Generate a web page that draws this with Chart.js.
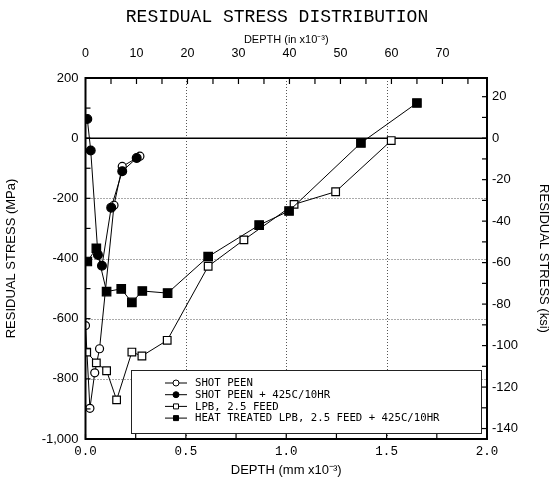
<!DOCTYPE html>
<html>
<head>
<meta charset="utf-8">
<script src="https://cdn.jsdelivr.net/npm/chart.js@4.4.1/dist/chart.umd.min.js"></script>
<style>
html, body { margin: 0; padding: 0; background: #fff; }
</style>
</head>
<body>
<canvas id="stressChart" width="554" height="486"></canvas>
<script>
// depth (mm x10^-3) and residual stress (MPa)
var shotPeenDepth = [0, 0.022, 0.046, 0.070, 0.142, 0.183, 0.271]
var shotPeenStress = [-623, -898, -780, -700, -223, -94, -60]

var shotPeenHtDepth = [0.009, 0.026, 0.062, 0.082, 0.128, 0.183, 0.255]
var shotPeenHtStress = [64, -41, -388, -424, -231, -110, -66]

var lpbDepth = [0.006, 0.054, 0.105, 0.155, 0.231, 0.281, 0.407, 0.611, 0.789, 1.039, 1.246, 1.523]
var lpbStress = [-711, -747, -773, -870, -711, -724, -672, -426, -338, -220, -178, -8]

var lpbHtDepth = [0.009, 0.054, 0.105, 0.178, 0.231, 0.283, 0.409, 0.611, 0.865, 1.014, 1.372, 1.651]
var lpbHtStress = [-410, -366, -510, -501, -546, -508, -515, -394, -289, -242, -16, 117]

var seriesNames = [
	"SHOT PEEN",
	"SHOT PEEN + 425C/10HR",
	"LPB, 2.5 FEED",
	"HEAT TREATED LPB, 2.5 FEED + 425C/10HR"
]

// tick labels
var mmTicks = [0, 0.5, 1.0, 1.5, 2.0]
var inchTicks = [0, 10, 20, 30, 40, 50, 60, 70]
var mpaTicks = [-1000, -800, -600, -400, -200, 0, 200]
var ksiTicks = [-140, -120, -100, -80, -60, -40, -20, 0, 20]

var MM_PER_MIL = 0.0254
var MPA_PER_KSI = 6.894757

function pairs(xs, ys) {
	var out = []
	for (var i = 0; i < xs.length; i++) out.push({x: xs[i], y: ys[i]})
	return out
}

function series(name, xs, ys, shape, filled, radius, order) {
	return {
		label: name,
		data: pairs(xs, ys),
		borderColor: '#000',
		borderWidth: 1,
		backgroundColor: filled ? '#000' : '#fff',
		pointStyle: shape,
		pointRadius: radius,
		pointBorderWidth: 1.2,
		pointBorderColor: '#000',
		pointBackgroundColor: filled ? '#000' : '#fff',
		tension: 0,
		order: order
	}
}

var datasets = [
	series(seriesNames[0], shotPeenDepth, shotPeenStress, 'circle', false, 4, 4),
	series(seriesNames[1], shotPeenHtDepth, shotPeenHtStress, 'circle', true, 4.4, 2),
	series(seriesNames[2], lpbDepth, lpbStress, 'rect', false, 5.4, 3),
	series(seriesNames[3], lpbHtDepth, lpbHtStress, 'rect', true, 6, 1)
]

function setTicks(list) {
	return function (scale) {
		scale.ticks = list.map(function (v) { return {value: v} })
	}
}

function line(ctx, x1, y1, x2, y2) {
	ctx.beginPath()
	ctx.moveTo(x1, y1)
	ctx.lineTo(x2, y2)
	ctx.stroke()
}

var framePlugin = {
	id: 'frame',
	beforeDatasetsDraw: function (chart) {
		var ctx = chart.ctx, a = chart.chartArea
		var sx = chart.scales.x, sy = chart.scales.y
		ctx.save()
		ctx.strokeStyle = '#555'
		ctx.lineWidth = 1
		ctx.setLineDash([1, 2])
		mmTicks.forEach(function (v) {
			if (v <= 0 || v >= 2) return
			var px = Math.round(sx.getPixelForValue(v)) + 0.5
			line(ctx, px, a.top, px, a.bottom)
		})
		mpaTicks.forEach(function (v) {
			if (v <= -1000 || v >= 200 || v === 0) return
			var py = Math.round(sy.getPixelForValue(v)) + 0.5
			line(ctx, a.left, py, a.right, py)
		})
		ctx.setLineDash([])
		ctx.strokeStyle = '#000'
		ctx.lineWidth = 1.5
		var zy = sy.getPixelForValue(0)
		line(ctx, a.left, zy, a.right, zy)
		ctx.restore()
	},
	afterDatasetsDraw: function (chart) {
		var ctx = chart.ctx, a = chart.chartArea
		var sx = chart.scales.x, sx2 = chart.scales.x2, sy = chart.scales.y, sy2 = chart.scales.y2
		ctx.save()
		ctx.strokeStyle = '#000'
		ctx.lineWidth = 1.2
		var v, p
		// inward ticks on all four sides
		for (v = 0; v <= 2.0001; v += 0.25) {
			p = sx.getPixelForValue(v)
			line(ctx, p, a.bottom, p, a.bottom - 5)
		}
		for (v = 5; v <= 78; v += 5) {
			p = sx2.getPixelForValue(v)
			line(ctx, p, a.top, p, a.top + 6)
		}
		for (v = -900; v < 200; v += 100) {
			p = sy.getPixelForValue(v)
			line(ctx, a.left, p, a.left + 5, p)
		}
		for (v = -140; v <= 20; v += 10) {
			p = sy2.getPixelForValue(v)
			line(ctx, a.right, p, a.right - 5, p)
		}
		ctx.lineWidth = 2
		ctx.strokeRect(a.left, a.top, a.right - a.left, a.bottom - a.top)
		ctx.restore()
	},
	afterDraw: function (chart) {
		var ctx = chart.ctx
		var bx = 131.5, by = 370.5, bw = 350, bh = 63
		ctx.save()
		ctx.fillStyle = '#fff'
		ctx.fillRect(bx, by, bw, bh)
		ctx.strokeStyle = '#222'
		ctx.lineWidth = 1
		ctx.strokeRect(bx, by, bw, bh)
		ctx.font = '10.7px "DejaVu Sans Mono"'
		ctx.textBaseline = 'middle'
		ctx.fillStyle = '#000'
		for (var i = 0; i < datasets.length; i++) {
			var d = datasets[i]
			var ry = 383 + i * 11.7
			ctx.strokeStyle = '#000'
			ctx.lineWidth = 1
			line(ctx, 165, ry, 187, ry)
			ctx.fillStyle = d.pointBackgroundColor
			ctx.lineWidth = 1
			ctx.beginPath()
			if (d.pointStyle === 'circle') ctx.arc(176, ry, 3, 0, Math.PI * 2)
			else ctx.rect(173.5, ry - 2.5, 5, 5)
			ctx.fill()
			ctx.stroke()
			ctx.fillStyle = '#000'
			ctx.fillText(d.label, 195, ry + 0.5)
		}
		ctx.restore()
	}
}

var tickFont = {family: '"Liberation Sans", Arial, sans-serif', size: 13}
var titleFont = {family: '"Liberation Sans", Arial, sans-serif', size: 13}

var ctx = document.getElementById("stressChart")
var chart = new Chart(ctx, {
	type: 'line',
	data: {datasets: datasets},
	plugins: [framePlugin],
	options: {
		responsive: false,
		animation: false,
		devicePixelRatio: 1,
		layout: {padding: 0},
		plugins: {
			legend: {display: false},
			tooltip: {enabled: false},
			title: {
				display: true,
				text: 'RESIDUAL STRESS DISTRIBUTION',
				color: '#000',
				font: {family: '"Liberation Mono", monospace', size: 18, weight: 'normal'},
				padding: {top: 6, bottom: 0}
			}
		},
		scales: {
			x: {
				type: 'linear',
				position: 'bottom',
				min: 0,
				max: 2,
				afterBuildTicks: setTicks(mmTicks),
				afterFit: function (s) { s.height = 47 },
				grid: {display: false, drawTicks: false},
				border: {display: false},
				ticks: {
					padding: 5,
					color: '#000',
					font: {family: '"Liberation Mono", monospace', size: 12.5},
					callback: function (v) { return Number(v).toFixed(1) }
				},
				title: {
					display: true,
					text: 'DEPTH (mm x10\u207B\u00B3)',
					color: '#000',
					font: titleFont,
					padding: {top: 0, bottom: 8}
				}
			},
			x2: {
				type: 'linear',
				position: 'top',
				min: 0,
				max: 2 / MM_PER_MIL,
				afterBuildTicks: setTicks(inchTicks),
				afterFit: function (s) { s.height = 50.4 },
				grid: {display: false, drawTicks: false},
				border: {display: false},
				ticks: {padding: 17, color: '#000', font: {family: tickFont.family, size: 12.5}},
				title: {
					display: true,
					text: 'DEPTH (in x10\u207B\u00B3)',
					color: '#000',
					font: {family: tickFont.family, size: 11},
					padding: {top: 6, bottom: 0}
				}
			},
			y: {
				type: 'linear',
				position: 'left',
				min: -1000,
				max: 200,
				afterBuildTicks: setTicks(mpaTicks),
				afterFit: function (s) { s.width = 85.5 },
				grid: {display: false, drawTicks: false},
				border: {display: false},
				ticks: {padding: 7, color: '#000', font: tickFont},
				title: {
					display: true,
					text: 'RESIDUAL STRESS (MPa)',
					color: '#000',
					font: titleFont,
					padding: {top: 4, bottom: 0}
				}
			},
			y2: {
				type: 'linear',
				position: 'right',
				min: -1000 / MPA_PER_KSI,
				max: 200 / MPA_PER_KSI,
				afterBuildTicks: setTicks(ksiTicks),
				afterFit: function (s) { s.width = 67 },
				grid: {display: false, drawTicks: false},
				border: {display: false},
				ticks: {padding: 5, color: '#000', font: tickFont},
				title: {
					display: true,
					text: 'RESIDUAL STRESS (ksi)',
					color: '#000',
					font: titleFont,
					padding: {top: 3, bottom: 0}
				}
			}
		}
	}
})
</script>
</body>
</html>
